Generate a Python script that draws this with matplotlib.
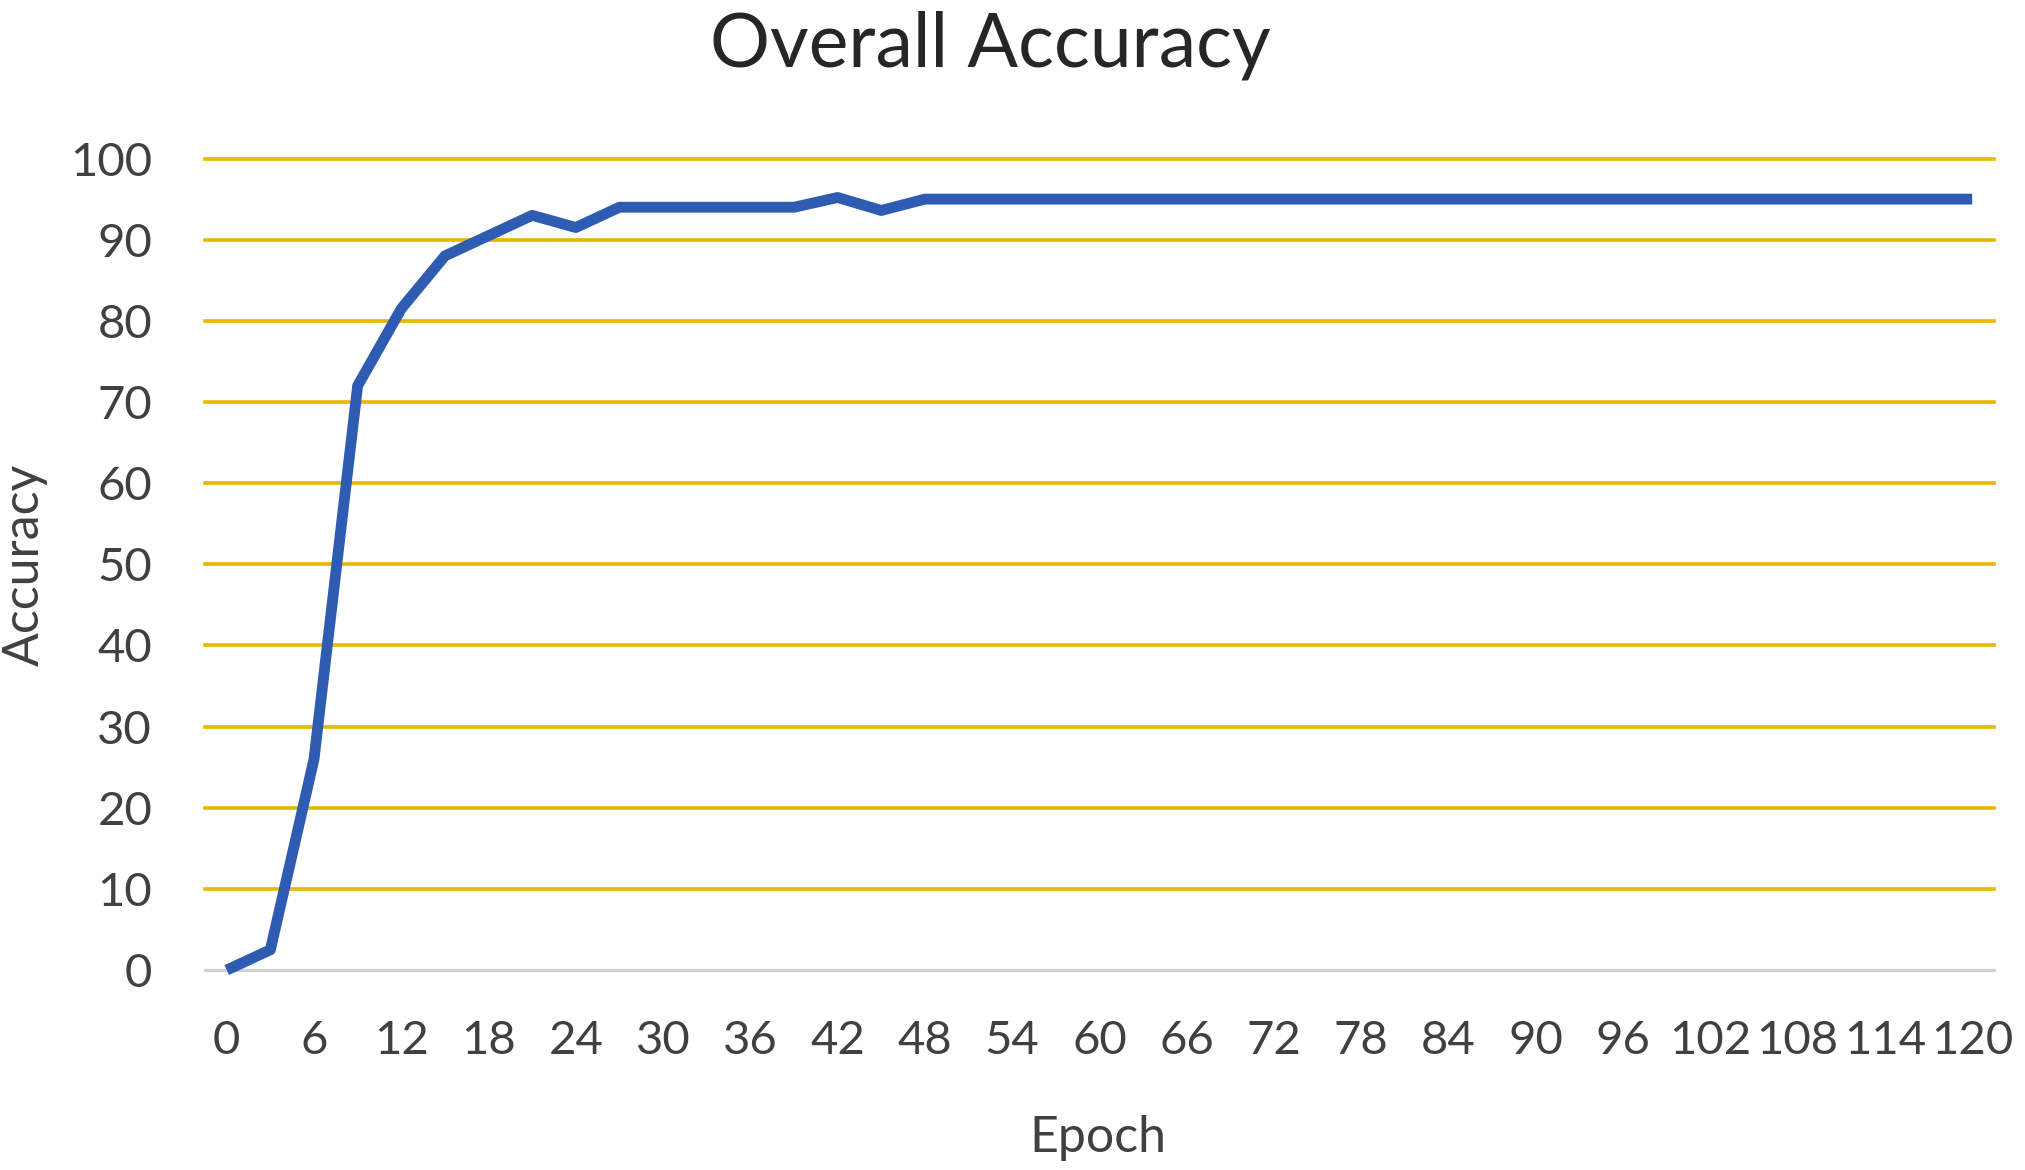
import numpy as np
import matplotlib
matplotlib.use('Agg')
import matplotlib.pyplot as plt

# data (one point every 3 epochs)
epochs = list(range(0, 121, 3))
accuracy = [0, 2.5, 26, 72, 81.5, 88, 90.5, 93, 91.5, 94,
            94, 94, 94, 94, 95.2, 93.6, 95, 95, 95, 95,
            95, 95, 95, 95, 95, 95, 95, 95, 95, 95,
            95, 95, 95, 95, 95, 95, 95, 95, 95, 95,
            95]
xtick_labels = list(range(0, 121, 6))
ytick_labels = list(range(0, 101, 10))

plt.rcParams['font.family'] = ['Lato', 'DejaVu Sans']
text_col = '#404040'

fig = plt.figure(figsize=(20.25, 11.7), dpi=100)
ax = fig.add_axes([0.1012, 0.1709, 0.8835, 0.6936])

ax.plot(epochs, accuracy, color='#2F5CB3', linewidth=7.8, solid_joinstyle='round',
        solid_capstyle='butt', zorder=3, clip_on=False)

ax.set_xlim(-1.5, 121.5)
ax.set_ylim(0, 100)
ax.set_xticks(xtick_labels)
ax.set_xticklabels([str(v) for v in xtick_labels])
ax.set_yticks(ytick_labels)
ax.set_yticklabels([str(v) for v in ytick_labels])
ax.tick_params(axis='both', length=0, labelsize=34, labelcolor=text_col)
ax.tick_params(axis='x', pad=36)
ax.tick_params(axis='y', pad=38)

ax.yaxis.grid(True, color='#E8B800', linewidth=2.6)
ax.set_axisbelow(True)
for val, gl in zip(ytick_labels, ax.get_ygridlines()):
    gl.set_clip_on(False)
    if val == 0:
        gl.set_visible(False)

for s in ['top', 'left', 'right']:
    ax.spines[s].set_visible(False)
ax.spines['bottom'].set_color('#D0D0D0')
ax.spines['bottom'].set_linewidth(2.4)

fig.text(990 / 2025, (1170 - 67) / 1170, 'Overall Accuracy', ha='center', va='baseline',
         fontsize=54, color='#262626')
fig.text(1098 / 2025, (1170 - 1152) / 1170, 'Epoch', ha='center', va='baseline',
         fontsize=36, color=text_col)
fig.text(25 / 2025, (1170 - 565) / 1170, 'Accuracy', ha='center', va='center',
         rotation=90, fontsize=36, color=text_col)

fig.savefig('out.png', dpi=100, facecolor='white')
plt.close(fig)
